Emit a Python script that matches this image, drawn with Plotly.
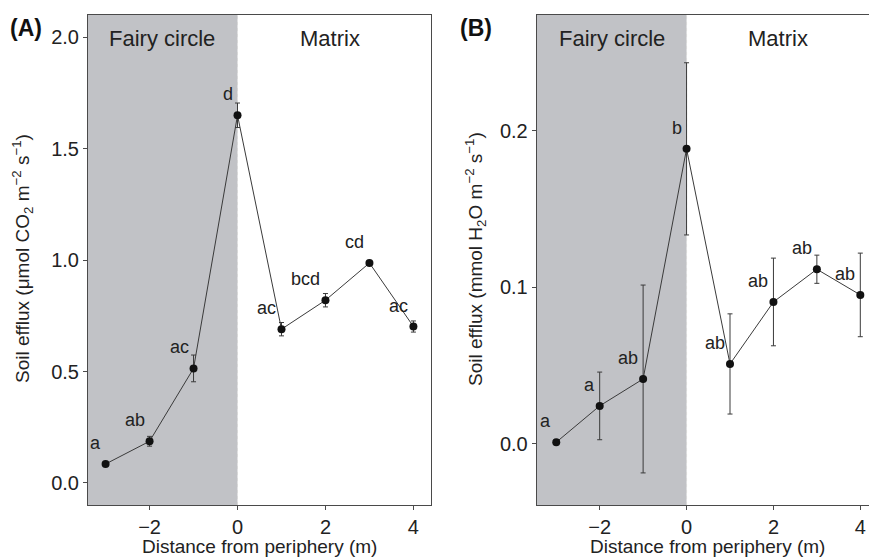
import plotly.graph_objects as go

# Distance from the fairy-circle periphery (m)
distance = [-3, -2, -1, 0, 1, 2, 3, 4]

# (A) CO2 efflux, µmol CO2 m-2 s-1
co2_mean = [0.085, 0.187, 0.514, 1.650, 0.690, 0.820, 0.987, 0.702]
co2_se = [0.010, 0.022, 0.060, 0.055, 0.030, 0.030, 0.010, 0.025]
co2_letters = ["a", "ab", "ac", "d", "ac", "bcd", "cd", "ac"]

# (B) H2O efflux, mmol H2O m-2 s-1
h2o_mean = [0.0011, 0.0243, 0.0415, 0.1885, 0.0511, 0.0907, 0.1116, 0.0952]
h2o_se = [0.0010, 0.0216, 0.0600, 0.0550, 0.0320, 0.0280, 0.0090, 0.0267]
h2o_letters = ["a", "a", "ab", "b", "ab", "ab", "ab", "ab"]

FONT = "Liberation Sans, Arial, Helvetica, sans-serif"
TXT = "#222222"
AXC = "#4a4a4a"
SHADE = "#c1c2c6"

W, H = 869, 558
ML, MR, MT, MB = 88, 0, 15, 53
PW = W - ML - MR
PH = H - MT - MB


def px_x(p):
    return (p - ML) / PW


def px_y(p):
    return 1 - (p - MT) / PH


fig = go.Figure()

panels = [
    ("x", "y", co2_mean, co2_se, co2_letters),
    ("x2", "y2", h2o_mean, h2o_se, h2o_letters),
]
for xa, ya, mean, se, letters in panels:
    fig.add_trace(go.Scatter(
        x=distance, y=mean, xaxis=xa, yaxis=ya,
        mode="lines+markers",
        line=dict(color="#3a3a3a", width=1),
        marker=dict(color="#111111", size=8),
        error_y=dict(type="data", array=se, visible=True,
                     color="#3a3a3a", thickness=1, width=2.5),
        showlegend=False, hoverinfo="skip",
    ))
    for xv, yv, lab in zip(distance, mean, letters):
        fig.add_annotation(
            x=xv, y=yv, xref=xa, yref=ya, text=lab, showarrow=False,
            xanchor="right", yanchor="middle", xshift=-3, yshift=21,
            font=dict(family=FONT, size=18, color=TXT),
        )
    # fairy circle zone shading and periphery line
    fig.add_shape(type="rect", xref=xa, yref=f"{ya} domain",
                  x0=-5, x1=0, y0=0, y1=1, fillcolor=SHADE,
                  line=dict(width=0), layer="below")
    fig.add_shape(type="line", xref=xa, yref=f"{ya} domain",
                  x0=0, x1=0, y0=0, y1=1,
                  line=dict(color="#d8d8d8", width=1, dash="dot"),
                  layer="below")
    fig.add_annotation(x=-1.72, y=0.953, xref=xa, yref=f"{ya} domain",
                       text="Fairy circle", showarrow=False,
                       xanchor="center", yanchor="middle",
                       font=dict(family=FONT, size=22, color=TXT))
    fig.add_annotation(x=2.1, y=0.953, xref=xa, yref=f"{ya} domain",
                       text="Matrix", showarrow=False,
                       xanchor="center", yanchor="middle",
                       font=dict(family=FONT, size=22, color=TXT))

axis_common = dict(
    showgrid=False, zeroline=False, showline=True, linecolor=AXC,
    linewidth=1, ticks="outside", ticklen=4, tickcolor=AXC, tickwidth=1,
    tickfont=dict(family=FONT, size=20, color=TXT),
)

fig.update_layout(
    width=W, height=H,
    margin=dict(l=ML, r=MR, t=MT, b=MB),
    paper_bgcolor="white", plot_bgcolor="white",
    xaxis=dict(domain=[0, px_x(431)], range=[-3.4, 4.4], anchor="y",
               tickvals=[-2, 0, 2, 4], ticktext=["\u22122", "0", "2", "4"],
               mirror=True, **axis_common),
    yaxis=dict(domain=[0, 1], range=[-0.099, 2.1], anchor="x",
               tickvals=[0, 0.5, 1.0, 1.5, 2.0],
               ticktext=["0.0", "0.5", "1.0", "1.5", "2.0"],
               mirror=True, **axis_common),
    xaxis2=dict(domain=[px_x(536.7), 1], range=[-3.45, 4.2], anchor="y2",
                tickvals=[-2, 0, 2, 4], ticktext=["\u22122", "0", "2", "4"],
                mirror=True, **axis_common),
    yaxis2=dict(domain=[0, 1], range=[-0.039, 0.274], anchor="x2",
                tickvals=[0, 0.1, 0.2], ticktext=["0.0", "0.1", "0.2"],
                mirror=False, **axis_common),
)

# panel tags
for label, xp in [("(A)", 26), ("(B)", 476)]:
    fig.add_annotation(x=px_x(xp), y=px_y(28), xref="paper", yref="paper",
                       text=f"<b>{label}</b>", showarrow=False,
                       xanchor="center", yanchor="middle",
                       font=dict(family=FONT, size=23, color="#111111"))

# axis titles
for xp in [259, 707]:
    fig.add_annotation(x=px_x(xp), y=px_y(546), xref="paper", yref="paper",
                       text="Distance from periphery (m)", showarrow=False,
                       xanchor="center", yanchor="middle",
                       font=dict(family=FONT, size=19, color=TXT))

ytitles = [
    (22, "Soil efflux (\u03bcmol CO<sub>2</sub> m<sup>\u22122</sup> s<sup>\u22121</sup>)"),
    (475, "Soil efflux (mmol H<sub>2</sub>O m<sup>\u22122</sup> s<sup>\u22121</sup>)"),
]
for xp, txt in ytitles:
    fig.add_annotation(x=px_x(xp), y=px_y(259), xref="paper", yref="paper",
                       text=txt, showarrow=False, textangle=-90,
                       xanchor="center", yanchor="middle",
                       font=dict(family=FONT, size=19, color=TXT))

fig.write_html("out.html")
